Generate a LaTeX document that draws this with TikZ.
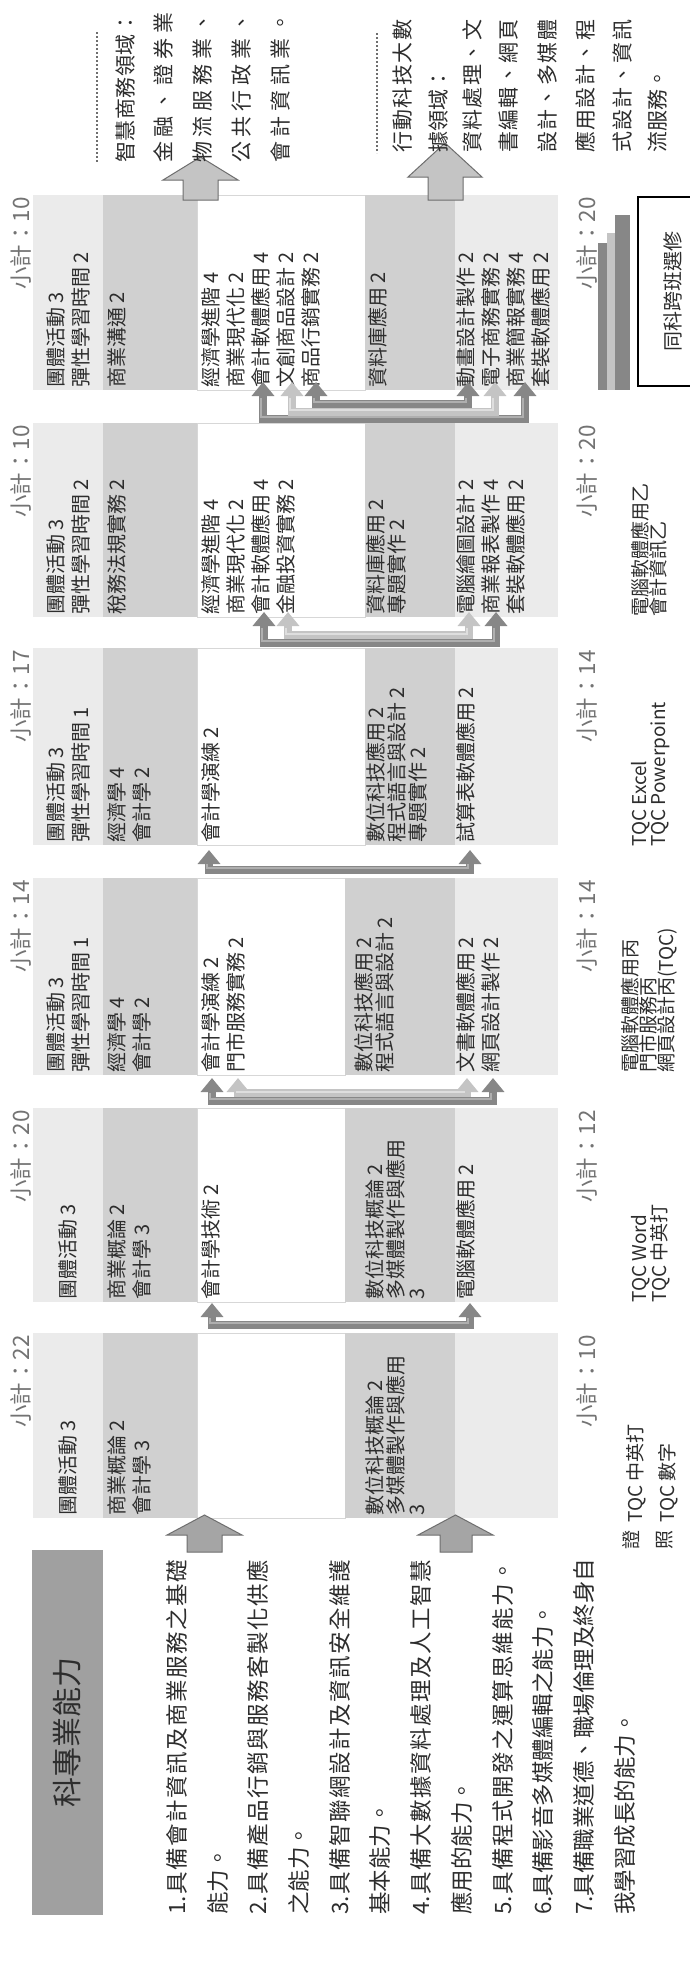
\documentclass[tikz,border=0pt]{standalone}
\usepackage{fontspec}
\setmainfont{Noto Sans CJK TC}
\usetikzlibrary{arrows.meta}
\definecolor{lightband}{RGB}{235,235,235}
\definecolor{darkband}{RGB}{208,208,208}
\definecolor{bordergray}{RGB}{215,215,215}
\definecolor{hdr}{RGB}{160,160,160}
\definecolor{txt}{RGB}{45,45,45}
\definecolor{subt}{RGB}{115,115,115}
\definecolor{arrdark}{RGB}{135,135,135}
\definecolor{arrlight}{RGB}{196,196,196}
\definecolor{hilite}{RGB}{175,175,175}
\definecolor{hilitel}{RGB}{222,222,222}
\definecolor{blockfill}{RGB}{165,165,165}
\definecolor{blockedge}{RGB}{110,110,110}
\makeatletter
\def\jl@end{\relax}
\def\jl@endmark{\jl@end}
\newcommand\jline[2]{\makebox[#1][s]{\jl@first#2\jl@end}}
\def\jl@first#1{#1\jl@next}
\def\jl@next#1{\def\jl@arg{#1}\ifx\jl@arg\jl@endmark\else\hfil#1\expandafter\jl@next\fi}
\makeatother
\newcommand\bands[3]{%
  \fill[lightband] (33,-#1) rectangle (103,-#2);
  \fill[darkband] (103,-#1) rectangle (197,-#2);
  \draw[bordergray, fill=white] (197,-#1) rectangle (#3,-#2);
  \fill[darkband] (#3,-#1) rectangle (455,-#2);
  \fill[lightband] (455,-#1) rectangle (558,-#2);
}
\begin{document}
\begin{tikzpicture}[x=1pt,y=1pt,
  crs/.style={rotate=90, inner sep=0pt, align=left, text=txt, font=\fontsize{20}{25}\selectfont},
  crsb/.style={crs, font=\fontsize{20}{21}\selectfont},
  subtot/.style={rotate=90, inner sep=0pt, text=subt, font=\fontsize{22.5}{26}\selectfont},
  cert/.style={rotate=90, inner sep=0pt, align=left, text=txt, font=\fontsize{19}{18}\selectfont},
  lst/.style={rotate=90, inner sep=0pt, text=txt, font=\fontsize{22.5}{26}\selectfont},
  rtxt/.style={rotate=90, inner sep=0pt, text=txt, font=\fontsize{21}{24}\selectfont},
  brkdark/.style={line width=8pt, draw=arrdark, line join=miter, {Triangle[width=22pt,length=14pt]}-{Triangle[width=22pt,length=14pt]}},
  brklight/.style={brkdark, draw=arrlight},
  hl/.style={line width=2.4pt, draw=hilite, line join=miter},
  hll/.style={hl, draw=hilitel},
  block/.style={fill=blockfill, draw=blockedge, line width=1pt, line join=miter},
]
\useasboundingbox (0,0) rectangle (690,-1963);
\fill[white] (0,0) rectangle (690,-1963);

% ---------- column bands ----------
\bands{1333}{1518}{345}
\bands{1108}{1302}{345}
\bands{878}{1075}{345}
\bands{648}{845}{365}
\bands{423}{617}{365}
\bands{195}{390}{365}

% ---------- left header and list ----------
\node[fill=hdr, minimum width=71pt, minimum height=365pt, inner sep=0pt] (hdr) at (67.5,-1732.5) {};
\node[rotate=90, text=txt, font=\fontsize{30}{34}\selectfont] (hdrt) at (hdr.center) {科專業能力};

\node[lst, anchor=west] (l1) at (177,-1915) {\jline{355pt}{{1.}具備會計資訊及商業服務之基礎}};
\node[lst, anchor=west] (l2) at (218,-1915) {能力。};
\node[lst, anchor=west] (l3) at (258,-1915) {\jline{355pt}{{2.}具備產品行銷與服務客製化供應}};
\node[lst, anchor=west] (l4) at (299,-1915) {之能力。};
\node[lst, anchor=west] (l5) at (340,-1915) {\jline{355pt}{{3.}具備智聯網設計及資訊安全維護}};
\node[lst, anchor=west] (l6) at (380,-1915) {基本能力。};
\node[lst, anchor=west] (l7) at (421,-1915) {\jline{355pt}{{4.}具備大數據資料處理及人工智慧}};
\node[lst, anchor=west] (l8) at (462,-1915) {應用的能力。};
\node[lst, anchor=west] (l9) at (503,-1915) {\jline{355pt}{{5.}具備程式開發之運算思維能力。}};
\node[lst, anchor=west] (l10) at (543,-1915) {6.具備影音多媒體編輯之能力。};
\node[lst, anchor=west] (l11) at (584,-1915) {\jline{355pt}{{7.}具備職業道德、職場倫理及終身自}};
\node[lst, anchor=west] (l12) at (625,-1915) {我學習成長的能力。};

% block arrows from list into first column
\draw[block] (187,-1552) -- (187,-1535) -- (167,-1535) -- (204.5,-1515) -- (242,-1535) -- (222,-1535) -- (222,-1552) -- cycle;
\draw[block] (440,-1552) -- (440,-1535) -- (418,-1535) -- (455.5,-1515) -- (493,-1535) -- (472,-1535) -- (472,-1552) -- cycle;

% ---------- column 1 ----------
\node[subtot, anchor=east] (s1a) at (21,-1335) {小計：22};
\node[crs, anchor=west] (c1a) at (68,-1516) {團體活動 3};
\node[crs, anchor=north west] (c1b) at (107,-1516) {商業概論 2\\會計學 3};
\node[crsb, anchor=north west] (c1d) at (365,-1516) {數位科技概論 2\\多媒體製作與應用\\3};
\node[subtot, anchor=east] (s1b) at (587,-1335) {小計：10};
\node[cert] (z1) at (631,-1540) {證};
\node[cert] (z2) at (665,-1540) {照};
\node[cert, anchor=west] (k1a) at (636,-1523) {TQC 中英打};
\node[cert, anchor=west] (k1b) at (668,-1523) {TQC 數字};

% ---------- column 2 ----------
\node[subtot, anchor=east] (s2a) at (21,-1110) {小計：20};
\node[crs, anchor=west] (c2a) at (68,-1300) {團體活動 3};
\node[crs, anchor=north west] (c2b) at (107,-1300) {商業概論 2\\會計學 3};
\node[crs, anchor=north west] (c2c) at (201,-1300) {會計學技術 2};
\node[crsb, anchor=north west] (c2d) at (365,-1300) {數位科技概論 2\\多媒體製作與應用\\3};
\node[crs, anchor=north west] (c2e) at (456,-1300) {電腦軟體應用 2};
\node[subtot, anchor=east] (s2b) at (587,-1110) {小計：12};
\node[cert, anchor=north west] (k2) at (631,-1303) {TQC Word\\TQC 中英打};

% ---------- column 3 ----------
\node[subtot, anchor=east] (s3a) at (21,-880) {小計：14};
\node[crs, anchor=west] (c3a) at (68,-1073) {團體活動 3\\彈性學習時間 1};
\node[crs, anchor=north west] (c3b) at (107,-1073) {經濟學 4\\會計學 2};
\node[crs, anchor=north west] (c3c) at (201,-1073) {會計學演練 2\\門市服務實務 2};
\node[crsb, anchor=north west] (c3d) at (354,-1073) {數位科技應用 2\\程式語言與設計 2};
\node[crs, anchor=north west] (c3e) at (456,-1073) {文書軟體應用 2\\網頁設計製作 2};
\node[subtot, anchor=east] (s3b) at (587,-880) {小計：14};
\node[cert, anchor=north west] (k3) at (621,-1073) {電腦軟體應用丙\\門市服務丙\\網頁設計丙(TQC)};

% ---------- column 4 ----------
\node[subtot, anchor=east] (s4a) at (21,-650) {小計：17};
\node[crs, anchor=west] (c4a) at (68,-843) {團體活動 3\\彈性學習時間 1};
\node[crs, anchor=north west] (c4b) at (107,-843) {經濟學 4\\會計學 2};
\node[crs, anchor=north west] (c4c) at (201,-843) {會計學演練 2};
\node[crsb, anchor=north west] (c4d) at (366,-843) {數位科技應用 2\\程式語言與設計 2\\專題實作 2};
\node[crs, anchor=north west] (c4e) at (456,-843) {試算表軟體應用 2};
\node[subtot, anchor=east] (s4b) at (587,-650) {小計：14};
\node[cert, anchor=north west] (k4) at (631,-847) {TQC Excel\\TQC Powerpoint};

% ---------- column 5 ----------
\node[subtot, anchor=east] (s5a) at (21,-425) {小計：10};
\node[crs, anchor=west] (c5a) at (68,-615) {團體活動 3\\彈性學習時間 2};
\node[crs, anchor=north west] (c5b) at (107,-615) {稅務法規實務 2};
\node[crs, anchor=north west] (c5c) at (201,-615) {經濟學進階 4\\商業現代化 2\\會計軟體應用 4\\金融投資實務 2};
\node[crsb, anchor=north west] (c5d) at (366,-615) {資料庫應用 2\\專題實作 2};
\node[crs, anchor=north west] (c5e) at (456,-615) {電腦繪圖設計 2\\商業報表製作 4\\套裝軟體應用 2};
\node[subtot, anchor=east] (s5b) at (587,-425) {小計：20};
\node[cert, anchor=north west] (k5) at (631,-617) {電腦軟體應用乙\\會計資訊乙};

% ---------- column 6 ----------
\node[subtot, anchor=east] (s6a) at (21,-197) {小計：10};
\node[crs, anchor=west] (c6a) at (68,-388) {團體活動 3\\彈性學習時間 2};
\node[crs, anchor=north west] (c6b) at (107,-388) {商業溝通 2};
\node[crs, anchor=north west] (c6c) at (201,-388) {經濟學進階 4\\商業現代化 2\\會計軟體應用 4\\文創商品設計 2\\商品行銷實務 2};
\node[crsb, anchor=north west] (c6d) at (368,-388) {資料庫應用 2};
\node[crs, anchor=north west] (c6e) at (456,-388) {動畫設計製作 2\\電子商務實務 2\\商業簡報實務 4\\套裝軟體應用 2};
\node[subtot, anchor=east] (s6b) at (587,-197) {小計：20};

% stacked bars under column 6
\fill[arrdark] (598,-243) rectangle (607,-390);
\fill[arrlight] (607,-233) rectangle (615,-390);
\fill[arrdark] (615,-215) rectangle (630,-390);

% elective box
\draw[line width=1.2pt] (638,-197) rectangle (700,-386);
\node[rotate=90, text=txt, font=\fontsize{20}{22}\selectfont] (elect) at (673,-291) {同科跨班選修};

% ---------- brackets between columns ----------
\coordinate (g1a) at (212,-1303); \coordinate (g1b) at (470,-1303);
\draw[brkdark] (g1a) -- (212,-1325) -- (470,-1325) -- (g1b);
\draw[hl] (210,-1318) -- (210,-1323) -- (468,-1323) -- (468,-1318);

\coordinate (g2a) at (212,-1078); \coordinate (g2b) at (493,-1078);
\coordinate (g2c) at (238,-1078); \coordinate (g2d) at (467,-1078);
\draw[brkdark] (g2a) -- (212,-1101) -- (493,-1101) -- (g2b);
\draw[hl] (210,-1093) -- (210,-1099) -- (491,-1099) -- (491,-1093);
\draw[brklight] (g2c) -- (238,-1093) -- (467,-1093) -- (g2d);
\draw[hll] (236,-1092) -- (465,-1092);

\coordinate (g3a) at (209,-850); \coordinate (g3b) at (470,-850);
\draw[brkdark] (g3a) -- (209,-870) -- (470,-870) -- (g3b);
\draw[hl] (207,-864) -- (207,-868) -- (468,-868) -- (468,-864);

\coordinate (g4a) at (264,-612); \coordinate (g4b) at (496,-612);
\coordinate (g4c) at (288,-612); \coordinate (g4d) at (469,-612);
\draw[brkdark] (g4a) -- (264,-643) -- (496,-643) -- (g4b);
\draw[hl] (262,-628) -- (262,-641) -- (494,-641) -- (494,-628);
\draw[brklight] (g4c) -- (288,-635) -- (469,-635) -- (g4d);
\draw[hll] (286,-628) -- (286,-634) -- (467,-634) -- (467,-628);

\coordinate (g5a) at (263,-382); \coordinate (g5b) at (525,-382);
\coordinate (g5c) at (292,-382); \coordinate (g5d) at (495,-382);
\coordinate (g5e) at (316,-382); \coordinate (g5f) at (468,-382);
\draw[brkdark] (g5a) -- (263,-419) -- (525,-419) -- (g5b);
\draw[hl] (261,-398) -- (261,-417) -- (523,-417) -- (523,-398);
\draw[brklight] (g5c) -- (292,-411.5) -- (495,-411.5) -- (g5d);
\draw[hll] (290,-398) -- (290,-410) -- (493,-410) -- (493,-398);
\draw[brkdark] (g5e) -- (316,-404) -- (468,-404) -- (g5f);
\draw[hl] (314,-398) -- (314,-402) -- (466,-402) -- (466,-398);

% ---------- right side: outcomes ----------
\draw[block, fill=arrlight] (183,-200) -- (183,-180) -- (163,-180) -- (200.5,-157) -- (238,-180) -- (218,-180) -- (218,-200) -- cycle;
\draw[block, fill=arrlight] (428,-200) -- (428,-177) -- (408,-177) -- (445,-143) -- (482,-177) -- (463,-177) -- (463,-200) -- cycle;

\draw[line width=2pt, dotted, blockedge] (96.5,-32) -- (96.5,-163);
\draw[line width=2pt, dotted, blockedge] (376.5,-33) -- (376.5,-153);

\node[rtxt, anchor=west] (r1) at (125,-163) {\jline{150pt}{智慧商務領域：}};
\node[rtxt, anchor=west] (r2) at (163,-163) {\jline{150pt}{金融、證券業}};
\node[rtxt, anchor=west] (r3) at (202.5,-163) {\jline{150pt}{物流服務業、}};
\node[rtxt, anchor=west] (r4) at (242,-163) {\jline{150pt}{公共行政業、}};
\node[rtxt, anchor=west] (r5) at (280,-163) {\jline{150pt}{會計資訊業。}};

\node[rtxt, anchor=west] (q1) at (403,-153) {\jline{133pt}{行動科技大數}};
\node[rtxt, anchor=west] (q2) at (438,-153) {據領域：};
\node[rtxt, anchor=west] (q3) at (472,-153) {\jline{133pt}{資料處理、文}};
\node[rtxt, anchor=west] (q4) at (509,-153) {\jline{133pt}{書編輯、網頁}};
\node[rtxt, anchor=west] (q5) at (548,-153) {\jline{133pt}{設計、多媒體}};
\node[rtxt, anchor=west] (q6) at (585,-153) {\jline{133pt}{應用設計、程}};
\node[rtxt, anchor=west] (q7) at (622,-153) {\jline{133pt}{式設計、資訊}};
\node[rtxt, anchor=west] (q8) at (658,-153) {流服務。};
\end{tikzpicture}
\end{document}
